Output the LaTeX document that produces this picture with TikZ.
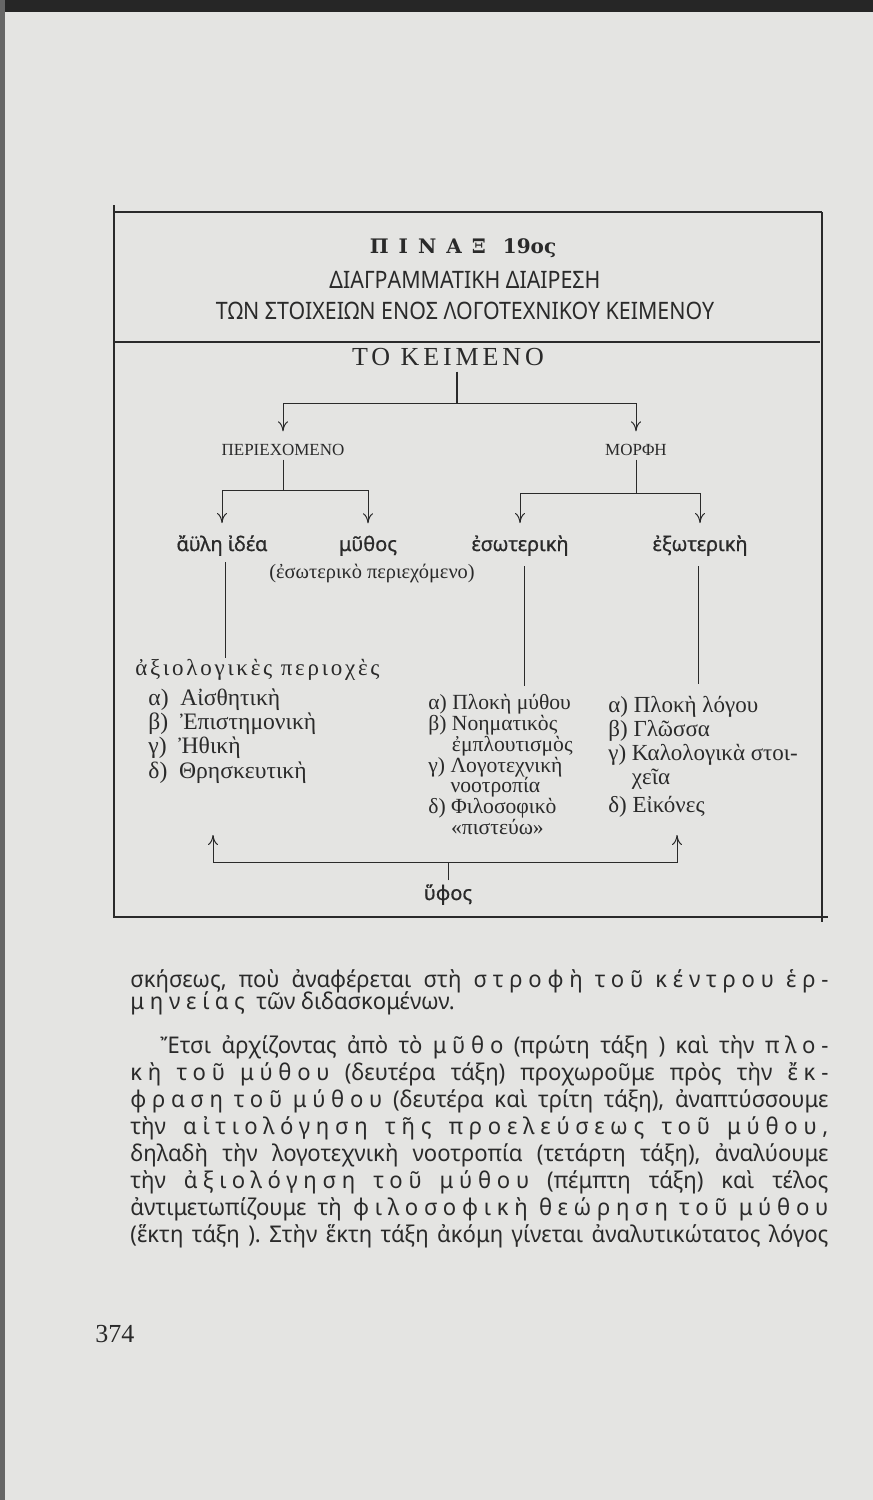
\documentclass[tikz,border=0pt]{standalone}
\usepackage{fontspec}
\usepackage{tikz}
\usetikzlibrary{arrows.meta}
\setmainfont{Liberation Serif}
\newfontfamily\labelsans[FakeBold=0.8]{Noto Sans}
\newfontfamily\bodysans[FakeStretch=0.96]{Noto Sans}
\newfontfamily\bodyspaced[FakeStretch=0.96,LetterSpace=25]{Noto Sans}
\newfontfamily\titlesans[FakeStretch=0.89]{Noto Sans}
\newfontfamily\slabspaced[LetterSpace=50]{DejaVu Serif}
\newfontfamily\slabserif{DejaVu Serif}
\newfontfamily\serifspaced[LetterSpace=15]{Liberation Serif}
\newfontfamily\serifwide[LetterSpace=12]{Liberation Serif}
\definecolor{paper}{HTML}{E4E4E2}
\definecolor{ink}{HTML}{2A2A2A}
\newcommand{\lsp}[1]{{\bodyspaced #1}}

\begin{document}
\frenchspacing
\begin{tikzpicture}[x=0.5pt,y=-0.5pt,
  every node/.style={inner sep=0pt,text=ink},
  rule/.style={ink,line width=1.3pt},
  conn/.style={ink,line width=0.5pt},
  arr/.style={conn,-{To[length=5pt,width=5pt]}},
  label/.style={anchor=base,font=\labelsans\fontsize{10}{12}\selectfont},
  caps/.style={anchor=base,font=\fontsize{8.5}{10}\selectfont},
  list/.style={anchor=north west,align=left},
  bodyline/.style={anchor=base west,font=\bodysans\fontsize{11.5}{13}\selectfont}]
  \useasboundingbox (0,0) rectangle (873,1500);
  \fill[paper] (0,0) rectangle (873,1500);
  \fill[black!85] (0,0) rectangle (873,12);
  \fill[black!60] (0,0) rectangle (5,1500);

  % frame
  \draw[rule] (115,212) -- (822,212);
  \draw[ink,line width=1pt] (115,342) -- (820,342);
  \draw[rule] (115,917) -- (828,917);
  \draw[ink,line width=0.8pt] (114,205) -- (114,918);
  \draw[ink,line width=0.6pt] (822,212) -- (822,922);

  % title
  \node[anchor=base,font=\slabspaced\bfseries\fontsize{10}{12}\selectfont] (pinax) at (463,253) {ΠΙΝΑΞ {\slabserif 19ος}};
  \node[anchor=base,font=\titlesans\fontsize{12}{14}\selectfont] (diag1) at (465,288) {ΔΙΑΓΡΑΜΜΑΤΙΚΗ ΔΙΑΙΡΕΣΗ};
  \node[anchor=base,font=\titlesans\fontsize{12}{14}\selectfont] (diag2) at (465,319) {ΤΩΝ ΣΤΟΙΧΕΙΩΝ ΕΝΟΣ ΛΟΓΟΤΕΧΝΙΚΟΥ ΚΕΙΜΕΝΟΥ};

  % tree
  \node[anchor=base,font=\serifspaced\fontsize{13}{15}\selectfont] (keimeno) at (448,365) {ΤΟ ΚΕΙΜΕΝΟ};
  \node[caps] (periex) at (283,455) {ΠΕΡΙΕΧΟΜΕΝΟ};
  \node[caps] (morfi) at (636,455) {ΜΟΡΦΗ};
  \coordinate (split) at (457,403);
  \draw[ink,line width=1.4pt,shorten <=3pt] (keimeno.south -| split) -- (split);
  \draw[arr,shorten >=6pt] (split) -| (periex.north);
  \draw[arr,shorten >=6pt] (split) -| (morfi.north);

  \node[label] (idea) at (222,551) {ἄϋλη ἰδέα};
  \node[label] (mythos) at (368,551) {μῦθος};
  \node[anchor=base,font=\fontsize{10.2}{12}\selectfont] (mythnote) at (372,578) {(ἐσωτερικὸ περιεχόμενο)};
  \node[label] (eso) at (520,551) {ἐσωτερικὴ};
  \node[label] (exo) at (700,551) {ἐξωτερικὴ};
  \coordinate (psplit) at (283,490);
  \coordinate (msplit) at (636,493);
  \draw[conn,shorten <=2pt] (periex.south) -- (psplit);
  \draw[arr,shorten >=6pt] (psplit) -| (idea.north);
  \draw[arr,shorten >=6pt] (psplit) -| (mythos.north);
  \draw[conn,shorten <=2pt] (morfi.south) -- (msplit);
  \draw[arr,shorten >=6pt] (msplit) -| (eso.north);
  \draw[arr,shorten >=6pt] (msplit) -| (exo.north);

  % lists
  \node[anchor=base west,font=\serifwide\fontsize{11.5}{13}\selectfont] (axiol) at (135,675) {ἀξιολογικὲς περιοχὲς};
  \node[list,font=\fontsize{11.8}{12.2}\selectfont] (listL) at (148,688) {α)~ Αἰσθητικὴ\\ β)~ Ἐπιστημονικὴ\\ γ)~ Ἠθικὴ\\ δ)~ Θρησκευτικὴ};
  \node[list,font=\fontsize{10.8}{10.4}\selectfont] (listM) at (428,694) {α) Πλοκὴ μύθου\\ β) Νοηματικὸς\\ \phantom{β) }ἐμπλουτισμὸς\\ γ) Λογοτεχνικὴ\\ \phantom{γ) }νοοτροπία\\ δ) Φιλοσοφικὸ\\ \phantom{δ) }«πιστεύω»};
  \node[list,font=\fontsize{11.5}{12}\selectfont] (listR) at (608,696) {α) Πλοκὴ λόγου\\ β) Γλῶσσα\\ γ) Καλολογικὰ στοι-\\ \phantom{γ) }χεῖα\\[2pt] δ) Εἰκόνες};
  \draw[conn,shorten <=3pt] ([xshift=1.5pt]idea.south) -- ([xshift=1.5pt]idea.south |- axiol.north);
  \draw[conn,shorten <=5pt,shorten >=4pt] ([xshift=2pt]eso.south) -- ([xshift=2pt]eso.south |- listM.north);
  \draw[conn,shorten <=5pt,shorten >=6pt] ([xshift=-1pt]exo.south) -- ([xshift=-1pt]exo.south |- listR.north);

  % style
  \node[label] (yfos) at (448,900) {ὕφος};
  \coordinate (ljoin) at (213,862);
  \coordinate (rjoin) at (677,862);
  \coordinate (ltip) at (213,835);
  \coordinate (rtip) at (677,835);
  \draw[arr,shorten <=2pt] (yfos.north) |- (ljoin) -- (ltip);
  \draw[arr,shorten <=2pt] (yfos.north) |- (rjoin) -- (rtip);

  % text below
  \node[bodyline] (b1) at (130,987) {\makebox[349pt][s]{σκήσεως, ποὺ ἀναφέρεται στὴ \lsp{στροφὴ} \lsp{τοῦ} \lsp{κέντρου} \lsp{ἑρ-}}};
  \node[bodyline] (b2) at (130,1009) {\lsp{μηνείας}\ \ τῶν διδασκομένων.};
  \node[bodyline] (b3) at (160,1053) {\makebox[334pt][s]{Ἔτσι ἀρχίζοντας ἀπὸ τὸ \lsp{μῦθο} (πρώτη τάξη ) καὶ τὴν \lsp{πλο-}}};
  \node[bodyline] (b4) at (130,1080) {\makebox[349pt][s]{\lsp{κὴ} \lsp{τοῦ} \lsp{μύθου} (δευτέρα τάξη) προχωροῦμε πρὸς τὴν \lsp{ἔκ-}}};
  \node[bodyline] (b5) at (130,1107) {\makebox[349pt][s]{\lsp{φραση} \lsp{τοῦ} \lsp{μύθου} (δευτέρα καὶ τρίτη τάξη), ἀναπτύσσουμε}};
  \node[bodyline] (b6) at (130,1134) {\makebox[349pt][s]{τὴν \lsp{αἰτιολόγηση} \lsp{τῆς} \lsp{προελεύσεως} \lsp{τοῦ} \lsp{μύθου,}}};
  \node[bodyline] (b7) at (130,1161) {\makebox[349pt][s]{δηλαδὴ τὴν λογοτεχνικὴ νοοτροπία (τετάρτη τάξη), ἀναλύουμε}};
  \node[bodyline] (b8) at (130,1188) {\makebox[349pt][s]{τὴν \lsp{ἀξιολόγηση} \lsp{τοῦ} \lsp{μύθου} (πέμπτη τάξη) καὶ τέλος}};
  \node[bodyline] (b9) at (130,1215) {\makebox[349pt][s]{ἀντιμετωπίζουμε τὴ \lsp{φιλοσοφικὴ} \lsp{θεώρηση} \lsp{τοῦ} \lsp{μύθου}}};
  \node[bodyline] (b10) at (130,1242) {\makebox[349pt][s]{(ἕκτη τάξη ). Στὴν ἕκτη τάξη ἀκόμη γίνεται ἀναλυτικώτατος λόγος}};

  \node[anchor=base west,font=\fontsize{13}{15}\selectfont] (pageno) at (95,1342) {374};
\end{tikzpicture}
\end{document}
